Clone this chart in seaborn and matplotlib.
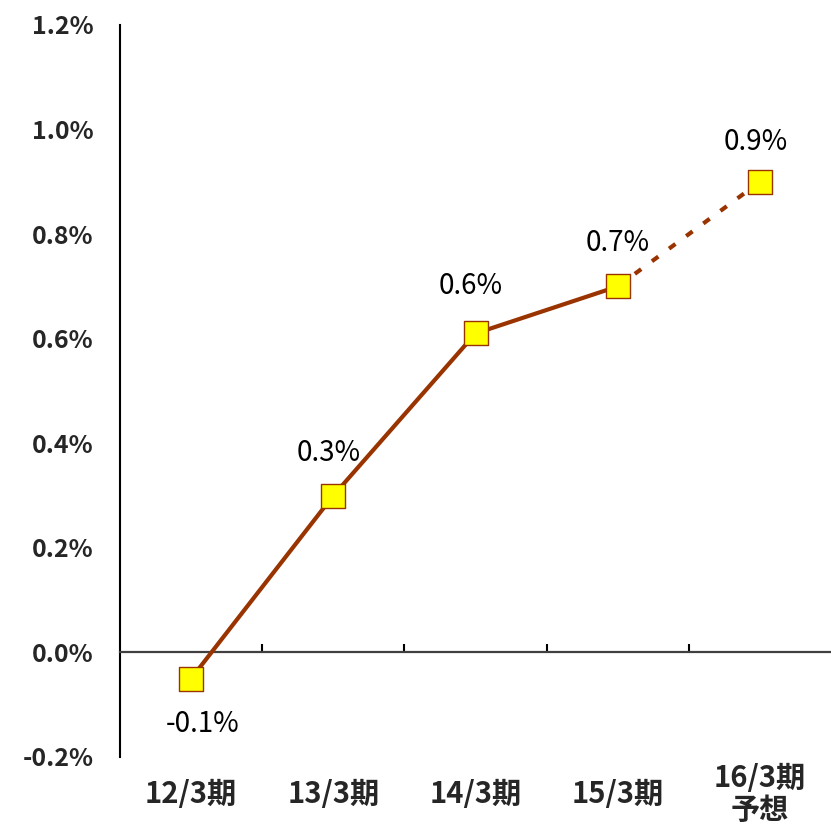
import numpy as np
import pandas as pd
import matplotlib
matplotlib.use("Agg")
import matplotlib.pyplot as plt
import seaborn as sns
from matplotlib.ticker import FixedLocator

# data (values in %)
periods = ["12/3期", "13/3期", "14/3期", "15/3期", "16/3期\n予想"]
values = [-0.05, 0.30, 0.61, 0.70, 0.90]
labels = ["-0.1%", "0.3%", "0.6%", "0.7%", "0.9%"]
yticks = [-0.2, 0.0, 0.2, 0.4, 0.6, 0.8, 1.0, 1.2]

# label offsets from the markers, in points
lab_dx = [8, -3.6, -3.6, 0, -2.9]
lab_dy = [-33, 31, 34.5, 31, 29]

sns.set_style("white")
plt.rcParams["font.family"] = ["Noto Sans CJK JP", "DejaVu Sans"]

line_col = "#993300"
df = pd.DataFrame({"x": np.arange(len(periods)), "y": values})
actual = df.iloc[:4]
forecast = df.iloc[3:]

fig = plt.figure(figsize=(8.31, 8.24), dpi=100)
ax = fig.add_axes([120 / 831, 1 - 757 / 824, 711 / 831, 732 / 824])

# forecast segment (dashed)
sns.lineplot(data=forecast, x="x", y="y", ax=ax, color=line_col, linewidth=3,
             estimator=None, sort=False, zorder=2)
ax.lines[-1].set_dashes((1.9, 3.2))
ax.lines[-1].set_dash_capstyle("butt")
# actual segment
sns.lineplot(data=actual, x="x", y="y", ax=ax, color=line_col, linewidth=3,
             estimator=None, sort=False, zorder=3)
# markers
sns.scatterplot(data=df, x="x", y="y", ax=ax, marker="s", s=275,
                color="#ffff00", edgecolor=line_col, linewidth=1.0, zorder=4)

for i, (v, lab) in enumerate(zip(values, labels)):
    ax.annotate(lab, (i, v), xytext=(lab_dx[i], lab_dy[i]),
                textcoords="offset points", ha="center", va="center",
                fontsize=20, color="black")

ax.set_xlim(-0.5, len(periods) - 0.5)
ax.set_ylim(-0.2, 1.2)
ax.set_yticks(yticks)
ax.set_yticklabels([f"{t:.1f}%" for t in yticks])
ax.set_xticks(np.arange(len(periods)))
ax.set_xticklabels(periods)
ax.xaxis.set_minor_locator(FixedLocator(np.arange(0.5, len(periods) - 1, 1.0)))

ax.set_xlabel("")
ax.set_ylabel("")

for s in ["top", "right"]:
    ax.spines[s].set_visible(False)
ax.spines["left"].set_color("black")
ax.spines["left"].set_linewidth(1.5)
ax.spines["bottom"].set_position(("data", 0))
ax.spines["bottom"].set_color("#404040")
ax.spines["bottom"].set_linewidth(1.6)

ax.tick_params(axis="y", which="major", direction="in", length=7, width=1.5,
               color="black", pad=19, labelsize=18)
ax.tick_params(axis="x", which="major", length=0, pad=102, labelsize=21)
ax.tick_params(axis="x", which="minor", direction="in", length=6, width=1.5,
               color="black", bottom=True)
for t in ax.get_yticklabels():
    t.set_fontweight("bold")
for t in ax.get_xticklabels():
    t.set_fontweight("bold")
    t.set_va("center")
    t.set_linespacing(1.1)

fig.savefig("out.png", dpi=100)
